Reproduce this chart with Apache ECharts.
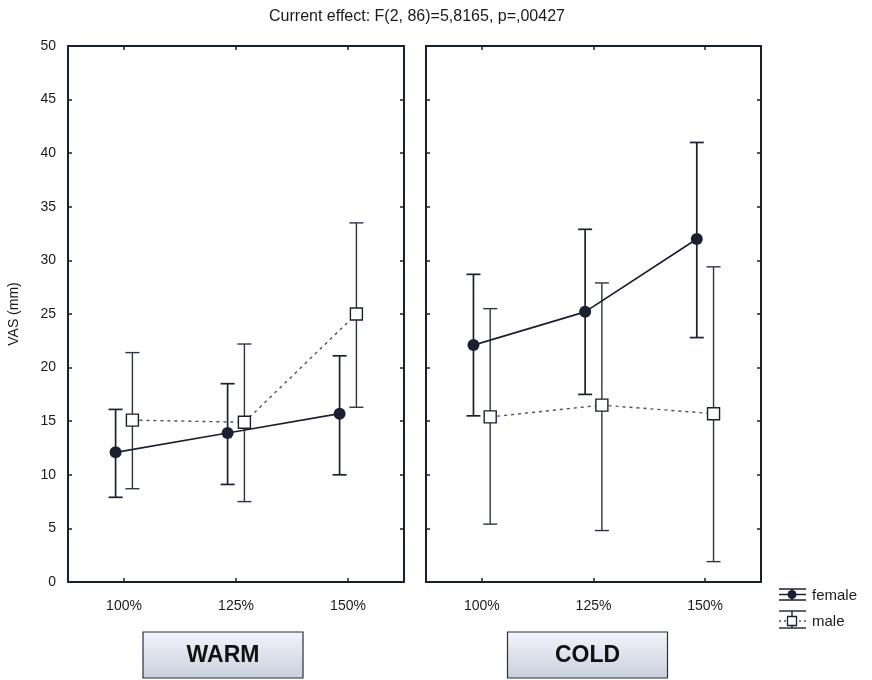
<!DOCTYPE html>
<html>
<head>
<meta charset="utf-8">
<script src="https://cdn.jsdelivr.net/npm/echarts@6/dist/echarts.min.js"></script>
<style>html,body{margin:0;padding:0;background:#fff;}#main{width:872px;height:680px;}</style>
</head>
<body>
<div id="main"></div>
<script>
var categories = ['100%', '125%', '150%'];
var panels = ['WARM', 'COLD'];
var yTicks = [0, 5, 10, 15, 20, 25, 30, 35, 40, 45, 50];

var warmFemaleMean = [12.1, 13.9, 15.7];
var warmFemaleLow  = [7.9, 9.1, 10.0];
var warmFemaleHigh = [16.1, 18.5, 21.1];
var warmMaleMean   = [15.1, 14.9, 25.0];
var warmMaleLow    = [8.7, 7.5, 16.3];
var warmMaleHigh   = [21.4, 22.2, 33.5];

var coldFemaleMean = [22.1, 25.2, 32.0];
var coldFemaleLow  = [15.5, 17.5, 22.8];
var coldFemaleHigh = [28.7, 32.9, 41.0];
var coldMaleMean   = [15.4, 16.5, 15.7];
var coldMaleLow    = [5.4, 4.8, 1.9];
var coldMaleHigh   = [25.5, 27.9, 29.4];

var OFF = 0.075;
var DARK = '#1b2030';
var MALE = '#4a5266';
var FONT = 'Liberation Sans';

function pts(mean, off) {
  return mean.map(function (v, i) { return [i + off, v]; });
}
function bars(low, high, off) {
  return low.map(function (v, i) { return [i + off, v, high[i]]; });
}
function errSeries(grid, low, high, off, color, w) {
  return {
    type: 'custom', xAxisIndex: grid * 2, yAxisIndex: grid * 2,
    data: bars(low, high, off), silent: true, z: 2,
    renderItem: function (params, api) {
      var lo = api.coord([api.value(0), api.value(1)]);
      var hi = api.coord([api.value(0), api.value(2)]);
      var h = 7;
      var st = { stroke: color, lineWidth: w };
      return { type: 'group', children: [
        { type: 'line', shape: { x1: lo[0], y1: lo[1], x2: hi[0], y2: hi[1] }, style: st },
        { type: 'line', shape: { x1: lo[0] - h, y1: lo[1], x2: lo[0] + h, y2: lo[1] }, style: st },
        { type: 'line', shape: { x1: hi[0] - h, y1: hi[1], x2: hi[0] + h, y2: hi[1] }, style: st }
      ]};
    }
  };
}
function femaleLine(grid, mean) {
  return { type: 'line', xAxisIndex: grid * 2, yAxisIndex: grid * 2, data: pts(mean, -OFF),
    symbol: 'circle', symbolSize: 12, z: 4,
    lineStyle: { color: DARK, width: 1.7 }, itemStyle: { color: DARK }, emphasis: { disabled: true } };
}
function maleLine(grid, mean) {
  return { type: 'line', xAxisIndex: grid * 2, yAxisIndex: grid * 2, data: pts(mean, OFF),
    symbol: 'rect', symbolSize: 12, z: 3,
    lineStyle: { color: MALE, width: 1.4, type: [3, 4] },
    itemStyle: { color: '#ffffff', borderColor: DARK, borderWidth: 1.4 }, emphasis: { disabled: true } };
}

var gridDefs = [
  { left: 68, top: 46, width: 336, height: 536 },
  { left: 426, top: 46, width: 335, height: 536 }
];
var xAxes = [], yAxes = [];
gridDefs.forEach(function (g, gi) {
  ['bottom', 'top'].forEach(function (pos) {
    xAxes.push({
      type: 'value', gridIndex: gi, position: pos, min: -0.5, max: 2.5,
      axisLine: { show: true, onZero: false, lineStyle: { color: DARK, width: 2 } },
      axisTick: { show: true, inside: true, length: 4, customValues: [0, 1, 2], lineStyle: { color: DARK, width: 1.5 } },
      axisLabel: { show: pos === 'bottom', customValues: [0, 1, 2], margin: 17,
        formatter: function (v) { return categories[Math.round(v)]; },
        color: '#1a1a1a', fontFamily: FONT, fontSize: 14 },
      splitLine: { show: false }
    });
  });
  ['left', 'right'].forEach(function (pos) {
    var labeled = gi === 0 && pos === 'left';
    yAxes.push({
      type: 'value', gridIndex: gi, position: pos, min: 0, max: 50, interval: 5,
      name: labeled ? 'VAS (mm)' : '', nameLocation: 'middle', nameGap: 47,
      nameTextStyle: { color: '#1a1a1a', fontFamily: FONT, fontSize: 14 },
      axisLine: { show: true, onZero: false, lineStyle: { color: DARK, width: 2 } },
      axisTick: { show: true, inside: true, length: 4, lineStyle: { color: DARK, width: 1.5 } },
      axisLabel: { show: labeled, margin: 12, color: '#1a1a1a', fontFamily: FONT, fontSize: 14,
        customValues: yTicks },
      splitLine: { show: false }
    });
  });
});

var series = [
  errSeries(0, warmMaleLow, warmMaleHigh, OFF, '#2e3445', 1.4),
  errSeries(0, warmFemaleLow, warmFemaleHigh, -OFF, DARK, 1.7),
  maleLine(0, warmMaleMean),
  femaleLine(0, warmFemaleMean),
  errSeries(1, coldMaleLow, coldMaleHigh, OFF, '#2e3445', 1.4),
  errSeries(1, coldFemaleLow, coldFemaleHigh, -OFF, DARK, 1.7),
  maleLine(1, coldMaleMean),
  femaleLine(1, coldFemaleMean)
];

function panelBox(cx, text) {
  return { type: 'group', children: [
    { type: 'rect', shape: { x: cx - 80, y: 632, width: 160, height: 46 },
      style: { fill: new echarts.graphic.LinearGradient(0, 0, 0, 1, [
        { offset: 0, color: '#f3f5fa' }, { offset: 1, color: '#c9cfdd' }]),
        stroke: '#2a2f40', lineWidth: 1.2 } },
    { type: 'text', x: cx, y: 656, style: { text: text, fill: '#111', font: 'bold 23px "Liberation Sans"',
      align: 'center', verticalAlign: 'middle' } }
  ]};
}

var legend = { type: 'group', children: [
  { type: 'line', shape: { x1: 779, y1: 594.5, x2: 806, y2: 594.5 }, style: { stroke: DARK, lineWidth: 1.5 } },
  { type: 'line', shape: { x1: 792, y1: 589, x2: 792, y2: 600 }, style: { stroke: DARK, lineWidth: 1.5 } },
  { type: 'line', shape: { x1: 779, y1: 589, x2: 806, y2: 589 }, style: { stroke: DARK, lineWidth: 1.5 } },
  { type: 'line', shape: { x1: 779, y1: 600, x2: 806, y2: 600 }, style: { stroke: DARK, lineWidth: 1.5 } },
  { type: 'circle', shape: { cx: 792, cy: 594.5, r: 4.5 }, style: { fill: DARK } },
  { type: 'text', x: 812, y: 596, style: { text: 'female', fill: '#1a1a1a', font: '15px "Liberation Sans"', verticalAlign: 'middle' } },
  { type: 'line', shape: { x1: 779, y1: 621, x2: 806, y2: 621 }, style: { stroke: MALE, lineWidth: 1.3, lineDash: [2, 3] } },
  { type: 'line', shape: { x1: 792, y1: 611, x2: 792, y2: 628 }, style: { stroke: DARK, lineWidth: 1.4 } },
  { type: 'line', shape: { x1: 779, y1: 611, x2: 806, y2: 611 }, style: { stroke: DARK, lineWidth: 1.4 } },
  { type: 'line', shape: { x1: 779, y1: 628, x2: 806, y2: 628 }, style: { stroke: DARK, lineWidth: 1.4 } },
  { type: 'rect', shape: { x: 787.5, y: 616.5, width: 9, height: 9 }, style: { fill: '#fff', stroke: DARK, lineWidth: 1.3 } },
  { type: 'text', x: 812, y: 622, style: { text: 'male', fill: '#1a1a1a', font: '15px "Liberation Sans"', verticalAlign: 'middle' } }
]};

var chart = echarts.init(document.getElementById('main'), null, { renderer: 'canvas' });
chart.setOption({
  backgroundColor: '#ffffff',
  animation: false,
  title: { text: 'Current effect: F(2, 86)=5,8165, p=,00427', left: 412, top: 4, textAlign: 'center',
    textStyle: { color: '#1a1a1a', fontFamily: FONT, fontSize: 16, fontWeight: 'normal' } },
  grid: gridDefs,
  xAxis: xAxes,
  yAxis: yAxes,
  series: series,
  graphic: [panelBox(223, panels[0]), panelBox(587.5, panels[1]), legend]
});
</script>
</body>
</html>
